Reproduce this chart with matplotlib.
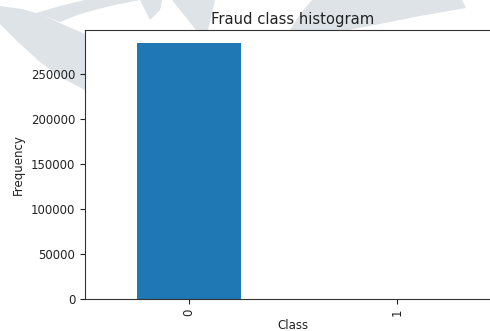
import matplotlib
matplotlib.use("Agg")
import matplotlib.pyplot as plt
from matplotlib.patches import Polygon

classes = ["0", "1"]
counts = [284315, 492]

fig = plt.figure(figsize=(4.9, 3.31), dpi=100)

# faint decorative shapes in the background (pixel coordinates)
bg = fig.add_axes([0, 0, 1, 1], zorder=-1)
bg.set_xlim(0, 490)
bg.set_ylim(331, 0)
bg.axis("off")
shade = "#dde3e7"
shapes = [
    [(0, 6), (22, 9), (40, 14), (62, 24), (85, 34), (85, 90), (62, 78), (40, 62), (18, 42), (0, 24)],
    [(36, 13), (60, 6), (85, 0), (140, 0), (110, 6), (80, 14), (60, 22)],
    [(140, 0), (162, 0), (160, 10), (150, 20), (146, 12)],
    [(172, 0), (215, 0), (208, 30), (196, 30)],
    [(312, 0), (462, 0), (466, 8), (420, 16), (380, 24), (348, 30), (290, 30), (300, 14)],
]
for pts in shapes:
    bg.add_patch(Polygon(pts, closed=True, facecolor=shade, edgecolor="none"))

ax = fig.add_axes([85 / 490, 32 / 331, 416 / 490, 269 / 331])
ax.bar(range(len(classes)), counts, width=0.5, color="#1f77b4")
ax.set_xlim(-0.5, 1.5)
ax.set_ylim(0, max(counts) * 1.05)
ax.set_xticks(range(len(classes)))
ax.set_xticklabels(classes, rotation=90)
ax.set_yticks([0, 50000, 100000, 150000, 200000, 250000])
ax.tick_params(labelsize=8.5, colors="#222222")
ax.set_title("Fraud class histogram", fontsize=10.6, pad=4, color="#222222")
ax.set_xlabel("Class", fontsize=8.5, labelpad=2, color="#222222")
ax.set_ylabel("Frequency", fontsize=8.5, color="#222222")
ax.spines["right"].set_visible(False)
for s in ax.spines.values():
    s.set_color("#333333")

fig.savefig("out.png", dpi=100)
